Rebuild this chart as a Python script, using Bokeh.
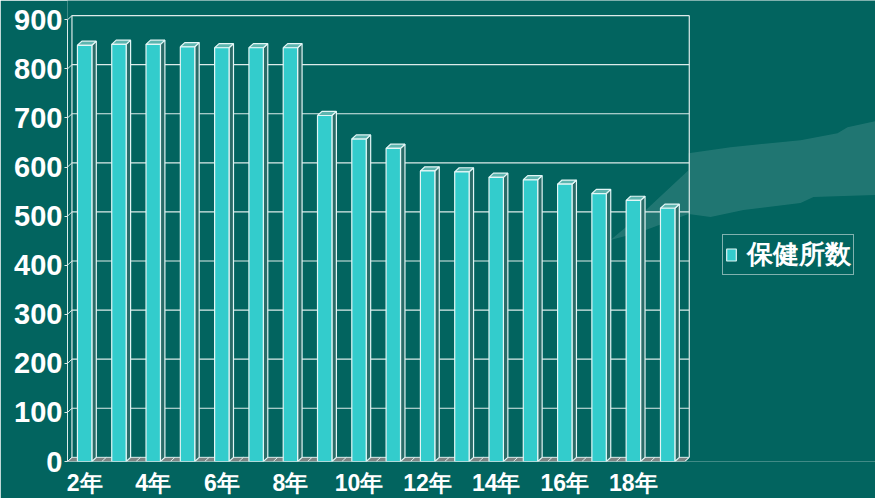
import numpy as np
from bokeh.plotting import figure
from bokeh.models import FixedTicker, Legend, LegendItem, ColumnDataSource, Range1d
from bokeh.embed import file_html
from bokeh.resources import INLINE

# ---- data ----
years = ["2年", "3年", "4年", "5年", "6年", "7年", "8年", "9年", "10年",
         "11年", "12年", "13年", "14年", "15年", "16年", "17年", "18年", "19年"]
counts = [848, 850, 850, 845, 843, 843, 843, 705, 657, 638,
          592, 590, 579, 574, 565, 546, 532, 516]
y_ticks = [0, 100, 200, 300, 400, 500, 600, 700, 800, 900]
shown_labels = ["2年", "4年", "6年", "8年", "10年", "12年", "14年", "16年", "18年"]
series_name = "保健所数"

# ---- style ----
BG = "#02645F"
BAR = "#33CCCC"
SIDE = "#2B6C68"
TOP = "#5DB5AF"
EDGE = "#E2F6F6"
GRID = "#DDEBEA"

W, H = 875, 498
FRAME_L, FRAME_B = 67, 462
X_END, Y_END = 23.56, 939.3

n = len(years)
xc = np.arange(n) + 0.5
bw = 0.42          # bar width in category units
ddx = 0.13         # 3D depth (x)
ddy = 8.5          # 3D depth (y)
ymax = y_ticks[-1]

# decorative background glow (screen pixels), converted to data space
glow_px = [(688, 153), (730, 147), (800, 140), (837, 133), (847, 127), (875, 121),
           (875, 195), (813, 197), (800, 203), (743, 210), (710, 217), (688, 214),
           (640, 232), (610, 240), (640, 215), (688, 170)]
sx = X_END / (W - FRAME_L)
sy = Y_END / FRAME_B
glow_x = [(px - FRAME_L) * sx for px, py in glow_px]
glow_y = [(FRAME_B - py) * sy for px, py in glow_px]

p = figure(width=W, height=H, x_range=Range1d(0, X_END), y_range=Range1d(0, Y_END),
           output_backend="svg", toolbar_location=None,
           min_border_left=FRAME_L, min_border_right=0, min_border_top=0,
           min_border_bottom=H - FRAME_B,
           background_fill_color=BG, border_fill_color=BG)
p.outline_line_color = None
p.xgrid.visible = False
p.ygrid.visible = False

p.patch(x=glow_x, y=glow_y, fill_color="white", fill_alpha=0.12, line_color=None)

# back wall grid lines
p.segment(x0=[ddx] * (len(y_ticks) - 1), y0=[v + ddy for v in y_ticks[1:]],
          x1=[n + ddx] * (len(y_ticks) - 1), y1=[v + ddy for v in y_ticks[1:]],
          line_color=GRID, line_width=1.2)
# left wall
p.segment(x0=[0] * len(y_ticks), y0=y_ticks, x1=[ddx] * len(y_ticks),
          y1=[v + ddy for v in y_ticks], line_color=GRID, line_width=1)
p.segment(x0=[ddx, n + ddx], y0=[ddy, ddy], x1=[ddx, n + ddx], y1=[ymax + ddy, ymax + ddy],
          line_color=GRID, line_width=1.2)
# floor
p.patch(x=[0, n, n + ddx, ddx], y=[0, 0, ddy, ddy], fill_color="#7C8584",
        line_color=GRID, line_width=1)
p.segment(x0=list(range(n + 1)), y0=[0] * (n + 1), x1=[i + ddx for i in range(n + 1)],
          y1=[ddy] * (n + 1), line_color=GRID, line_width=1)

# bars
left = xc - bw / 2
right = xc + bw / 2
side_xs = [[r, r + ddx, r + ddx, r] for r in right]
side_ys = [[0, ddy, v + ddy, v] for v in counts]
top_xs = [[l, r, r + ddx, l + ddx] for l, r in zip(left, right)]
top_ys = [[v, v, v + ddy, v + ddy] for v in counts]
p.patches(xs=side_xs, ys=side_ys, fill_color=SIDE, line_color=EDGE, line_width=1.2)
p.patches(xs=top_xs, ys=top_ys, fill_color=TOP, line_color=EDGE, line_width=1.2)
src = ColumnDataSource(dict(left=left, right=right, top=counts, bottom=[0] * n))
front = p.quad(left="left", right="right", top="top", bottom="bottom", source=src,
               fill_color=BAR, line_color=EDGE, line_width=1.2)

# axes
yax = p.yaxis[0]
yax.ticker = FixedTicker(ticks=y_ticks)
yax.bounds = (0, ymax)
yax.axis_line_color = GRID
yax.major_tick_line_color = GRID
yax.major_tick_in = 0
yax.major_tick_out = 3
yax.minor_tick_line_color = None
yax.major_label_standoff = 2
yax.major_label_text_color = "white"
yax.major_label_text_font = "Liberation Sans"
yax.major_label_text_font_style = "bold"
yax.major_label_text_font_size = "29px"

xax = p.xaxis[0]
label_pos = [float(xc[years.index(s)]) for s in shown_labels]
xax.ticker = FixedTicker(ticks=label_pos)
xax.major_label_overrides = {pos: s for pos, s in zip(label_pos, shown_labels)}
xax.axis_line_color = None
xax.major_tick_line_color = None
xax.minor_tick_line_color = None
xax.major_tick_in = 0
xax.major_tick_out = 0
xax.major_label_standoff = 8
xax.major_label_text_color = "white"
xax.major_label_text_font = "Liberation Sans"
xax.major_label_text_font_style = "bold"
xax.major_label_text_font_size = "23px"

legend = Legend(items=[LegendItem(label=series_name, renderers=[front])],
                location=(655, 186), orientation="vertical",
                label_text_font="Liberation Sans", label_text_font_style="bold",
                label_text_font_size="26px", label_text_color="white",
                glyph_width=12, glyph_height=15, label_standoff=10,
                padding=2, spacing=0, margin=0,
                border_line_color="white", border_line_width=1.5,
                background_fill_alpha=0)
p.add_layout(legend)

open("out.html", "w").write(file_html(p, INLINE))
